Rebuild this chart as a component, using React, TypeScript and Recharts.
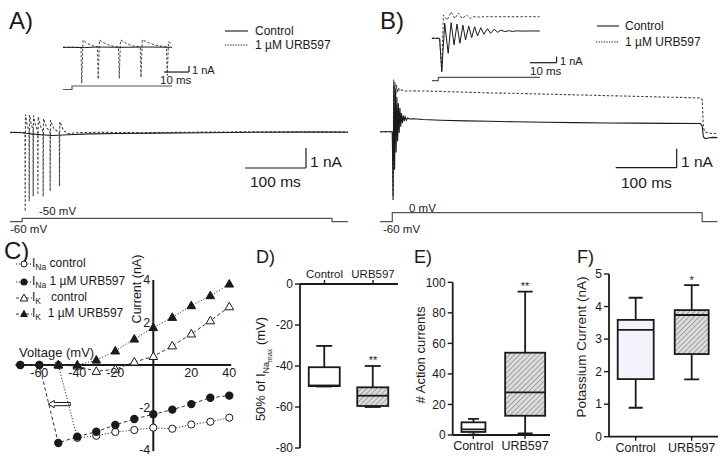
import React from "react";
import {
  Bar,
  ComposedChart,
  Line,
  LineChart,
  ReferenceDot,
  ReferenceLine,
  XAxis,
  YAxis
} from "recharts";

const FONT = '"Liberation Sans", Arial, Helvetica, sans-serif';
const INK = "#1a1a1a";
const STEP_INK = "#555";

// ---------- A) -50 mV step: time (ms from step onset), current (nA)
const aControl = [
  { t: -20, i: 0.02 }, { t: 0, i: 0 }, { t: 6, i: -0.03 }, { t: 15, i: -0.06 }, { t: 30, i: -0.1 },
  { t: 50, i: -0.14 }, { t: 75, i: -0.1 }, { t: 110, i: -0.06 }, { t: 160, i: -0.04 }, { t: 220, i: -0.02 },
  { t: 300, i: 0 }, { t: 380, i: 0.02 }, { t: 450, i: 0.03 }, { t: 508, i: 0.03 }, { t: 534, i: 0.02 }
];
const aUrb = [
  { t: -20, i: 0 }, { t: -10, i: 0.02 }, { t: 4.6, i: 0 }, { t: 4.9, i: -3.93 }, { t: 5.4, i: 0.9 }, { t: 8, i: 0.4 },
  { t: 11.2, i: 0.1 }, { t: 11.5, i: -3.43 }, { t: 12, i: 0.88 }, { t: 15, i: 0.4 },
  { t: 17.7, i: 0.15 }, { t: 18, i: -3.18 }, { t: 18.5, i: 0.85 }, { t: 22, i: 0.35 },
  { t: 25.4, i: 0.1 }, { t: 25.7, i: -3.1 }, { t: 26.2, i: 0.8 }, { t: 30, i: 0.35 },
  { t: 34.1, i: 0.05 }, { t: 34.4, i: -3.18 }, { t: 34.9, i: 0.7 }, { t: 40, i: 0.25 },
  { t: 45.6, i: 0.05 }, { t: 45.9, i: -2.93 }, { t: 46.4, i: 0.62 }, { t: 52, i: 0.2 },
  { t: 60.8, i: 0 }, { t: 61.1, i: -2.68 }, { t: 61.6, i: 0.55 }, { t: 68, i: 0.1 }, { t: 75, i: -0.05 },
  { t: 90, i: 0 }, { t: 120, i: 0.02 }, { t: 200, i: 0 }, { t: 300, i: 0.03 }, { t: 400, i: 0.05 },
  { t: 508, i: 0.05 }, { t: 534, i: 0.05 }
];
const aStep = [
  { t: -20, v: -60 }, { t: 0, v: -60 }, { t: 0, v: -50 }, { t: 508, v: -50 }, { t: 508, v: -60 }, { t: 534, v: -60 }
];
// inset of A (first 40 ms)
const aInsetControl = [
  { t: -3.6, i: 0 }, { t: 0, i: 0 }, { t: 5, i: -0.05 }, { t: 10, i: 0.05 }, { t: 20, i: 0 }, { t: 30, i: 0.05 }, { t: 40, i: 0 }
];
const aInsetUrb = [
  { t: -3.6, i: 0 }, { t: 3.6, i: 0 }, { t: 3.9, i: -6.0 }, { t: 4.4, i: 1.2 }, { t: 6, i: 0.7 }, { t: 8, i: 0.3 },
  { t: 10.2, i: 0.05 }, { t: 10.5, i: -5.3 }, { t: 11, i: 1.2 }, { t: 13, i: 0.7 }, { t: 15.5, i: 0.25 },
  { t: 18.6, i: 0.05 }, { t: 18.9, i: -5.2 }, { t: 19.4, i: 1.2 }, { t: 21.5, i: 0.7 }, { t: 24, i: 0.25 },
  { t: 27.3, i: 0.05 }, { t: 27.6, i: -5.0 }, { t: 28.1, i: 1.25 }, { t: 30.5, i: 0.8 }, { t: 33.5, i: 0.35 },
  { t: 37.8, i: 0.05 }, { t: 38.1, i: -4.7 }, { t: 38.6, i: 0.9 }, { t: 40, i: 0.6 }
];
const aInsetStep = [{ t: -3.6, v: -60 }, { t: 0, v: -60 }, { t: 0, v: -50 }, { t: 40, v: -50 }];

// ---------- B) 0 mV step
const bControl = [
  { t: -20, i: 0 }, { t: 0, i: 0 }, { t: 1.3, i: -3.6 }, { t: 2.5, i: 2.45 }, { t: 3.8, i: -2.0 }, { t: 5, i: 2.2 },
  { t: 6.3, i: -1.1 }, { t: 7.5, i: 1.84 }, { t: 8.8, i: -0.5 }, { t: 10, i: 1.5 }, { t: 11.3, i: -0.07 },
  { t: 12.5, i: 1.25 }, { t: 13.8, i: 0.26 }, { t: 15, i: 0.98 }, { t: 16.5, i: 0.45 }, { t: 18, i: 0.85 },
  { t: 19.5, i: 0.55 }, { t: 21, i: 0.79 }, { t: 23, i: 0.6 }, { t: 25, i: 0.72 }, { t: 28, i: 0.67 },
  { t: 35, i: 0.68 }, { t: 50, i: 0.64 }, { t: 80, i: 0.6 }, { t: 120, i: 0.57 }, { t: 160, i: 0.55 },
  { t: 200, i: 0.52 }, { t: 250, i: 0.5 }, { t: 300, i: 0.48 }, { t: 350, i: 0.46 }, { t: 400, i: 0.45 },
  { t: 450, i: 0.44 }, { t: 505, i: 0.43 }, { t: 508, i: 0.3 }, { t: 510, i: -0.28 }, { t: 513, i: -0.36 },
  { t: 518, i: -0.33 }, { t: 525, i: -0.3 }, { t: 533, i: -0.31 }
];
const bUrb = [
  { t: -20, i: 0 }, { t: 0, i: 0 }, { t: 1.3, i: -3.4 }, { t: 2.3, i: 2.75 }, { t: 3.3, i: 1.6 }, { t: 4.5, i: 2.6 },
  { t: 5.8, i: 1.9 }, { t: 7, i: 2.45 }, { t: 8.5, i: 2.05 }, { t: 10, i: 2.3 }, { t: 12, i: 2.15 }, { t: 15, i: 2.2 },
  { t: 20, i: 2.14 }, { t: 40, i: 2.15 }, { t: 80, i: 2.12 }, { t: 120, i: 2.08 }, { t: 160, i: 2.04 },
  { t: 200, i: 2.02 }, { t: 250, i: 1.98 }, { t: 300, i: 1.94 }, { t: 350, i: 1.9 }, { t: 400, i: 1.86 },
  { t: 450, i: 1.82 }, { t: 504, i: 1.78 }, { t: 508, i: 1.7 }, { t: 510, i: 0.2 }, { t: 513, i: -0.02 },
  { t: 520, i: -0.08 }, { t: 533, i: -0.1 }
];
const bStep = [
  { t: -20, v: -60 }, { t: 0, v: -60 }, { t: 0, v: 0 }, { t: 508, v: 0 }, { t: 508, v: -60 }, { t: 533, v: -60 }
];
const bInsetControl = [
  { t: -2.4, i: 0 }, { t: 0.5, i: 0 }, { t: 1.3, i: -5.57 }, { t: 2.4, i: 2.5 }, { t: 3.7, i: -2.5 }, { t: 4.8, i: 2.6 },
  { t: 5.9, i: -1.1 }, { t: 7, i: 2.38 }, { t: 8.1, i: -0.83 }, { t: 9.2, i: 2.2 }, { t: 10.2, i: -0.28 },
  { t: 11.4, i: 2.05 }, { t: 12.5, i: 0.1 }, { t: 13.6, i: 1.93 }, { t: 14.7, i: 0.38 }, { t: 15.9, i: 1.77 },
  { t: 17.1, i: 0.67 }, { t: 18.4, i: 1.6 }, { t: 19.6, i: 0.83 }, { t: 20.9, i: 1.5 }, { t: 22.2, i: 1.0 },
  { t: 23.5, i: 1.38 }, { t: 24.9, i: 1.1 }, { t: 26.3, i: 1.27 }, { t: 27.8, i: 1.15 }, { t: 29.5, i: 1.24 },
  { t: 32, i: 1.2 }, { t: 35, i: 1.22 }, { t: 38, i: 1.22 }
];
const bInsetUrb = [
  { t: -2.4, i: 0 }, { t: 0.5, i: 0 }, { t: 1.3, i: -5.4 }, { t: 1.9, i: 3.9 }, { t: 3.3, i: 3.05 }, { t: 4.8, i: 4.4 },
  { t: 6.2, i: 3.3 }, { t: 7.5, i: 4.2 }, { t: 9, i: 3.3 }, { t: 10.6, i: 3.9 }, { t: 11.9, i: 3.3 }, { t: 13.1, i: 3.6 },
  { t: 15, i: 3.55 }, { t: 18, i: 3.6 }, { t: 25, i: 3.6 }, { t: 38, i: 3.6 }
];
const bInsetStep = [{ t: -2.4, v: -60 }, { t: 0, v: -60 }, { t: 0, v: 0 }, { t: 38, v: 0 }];

// ---------- C) I-V relation: voltage (mV), current (nA)
const iNaControl = [
  { mV: -70, i: 0 }, { mV: -60, i: 0 }, { mV: -50, i: 0 }, { mV: -40, i: -3.43 }, { mV: -30, i: -3.33 },
  { mV: -20, i: -3.15 }, { mV: -10, i: -3.06 }, { mV: 0, i: -2.95 }, { mV: 10, i: -3.0 }, { mV: 20, i: -2.8 },
  { mV: 30, i: -2.67 }, { mV: 40, i: -2.48 }
];
const iNaUrb = [
  { mV: -70, i: 0 }, { mV: -60, i: 0 }, { mV: -50, i: -3.67 }, { mV: -40, i: -3.37 }, { mV: -30, i: -3.14 },
  { mV: -20, i: -2.82 }, { mV: -10, i: -2.54 }, { mV: 0, i: -2.32 }, { mV: 10, i: -2.1 }, { mV: 20, i: -1.84 },
  { mV: 30, i: -1.54 }, { mV: 40, i: -1.44 }
];
const iKControl = [
  { mV: -50, i: 0 }, { mV: -40, i: -0.05 }, { mV: -30, i: -0.3 }, { mV: -20, i: -0.2 }, { mV: -10, i: 0.14 },
  { mV: 0, i: 0.4 }, { mV: 10, i: 0.9 }, { mV: 20, i: 1.46 }, { mV: 30, i: 2.08 }, { mV: 40, i: 2.74 }
];
const iKUrb = [
  { mV: -50, i: 0 }, { mV: -40, i: 0 }, { mV: -30, i: 0.23 }, { mV: -20, i: 0.66 }, { mV: -10, i: 1.22 },
  { mV: 0, i: 1.76 }, { mV: 10, i: 2.24 }, { mV: 20, i: 2.79 }, { mV: 30, i: 3.26 }, { mV: 40, i: 3.81 }
];
const cVoltTicks = [-60, -40, -20, 20, 40];
const cCurrTicks = [4, 2, -2, -4];

// ---------- D, E, F) box plots
const groups = ["Control", "URB597"];
const dStats = [
  { min: -50, q1: -49.8, median: -49.5, q3: -40.6, max: -30.2 },
  { min: -60, q1: -59.5, median: -54.5, q3: -50.4, max: -40 }
];
const eStats = [
  { min: 0.3, q1: 2.0, median: 3.7, q3: 8.3, max: 10.5 },
  { min: 1.1, q1: 12.6, median: 27.9, q3: 53.9, max: 93.9 }
];
const fStats = [
  { min: 0.89, q1: 1.77, median: 3.28, q3: 3.59, max: 4.27 },
  { min: 1.76, q1: 2.54, median: 3.74, q3: 3.89, max: 4.66 }
];
const dSig = ["", "**"];
const eSig = ["", "**"];
const fSig = ["", "*"];
const dTicks = [0, -20, -40, -60, -80];
const eTicks = [0, 20, 40, 60, 80, 100];
const fTicks = [0, 1, 2, 3, 4, 5];

// value range a chart spans edge to edge, from one pixel anchor and a px-per-unit scale
const hspan = (left: number, w: number, refPx: number, refVal: number, ppu: number): [number, number] => [
  refVal - (refPx - left) / ppu,
  refVal + (left + w - refPx) / ppu
];
const vspan = (top: number, h: number, refPx: number, refVal: number, ppu: number): [number, number] => [
  refVal - (top + h - refPx) / ppu,
  refVal + (refPx - top) / ppu
];

function Txt({ x, y, size = 12, anchor = "start", children }: any) {
  const tx = anchor === "middle" ? "-50%" : anchor === "end" ? "-100%" : "0";
  return (
    <div
      style={{
        position: "absolute",
        left: x,
        top: y,
        fontSize: size,
        lineHeight: 1,
        whiteSpace: "nowrap",
        transform: `translate(${tx}, -50%)`
      }}
    >
      {children}
    </div>
  );
}

function VTxt({ x, y, size = 13, children }: any) {
  return (
    <div
      style={{
        position: "absolute",
        left: x,
        top: y,
        fontSize: size,
        lineHeight: 1,
        whiteSpace: "nowrap",
        transform: "translate(-50%, -50%) rotate(-90deg)"
      }}
    >
      {children}
    </div>
  );
}

function Sample({ x, y, w, dash }: { x: number; y: number; w: number; dash?: string }) {
  return (
    <svg width={w} height={4} style={{ position: "absolute", left: x, top: y - 2 }}>
      <line x1={0} x2={w} y1={2} y2={2} stroke={INK} strokeWidth={1.1} strokeDasharray={dash} />
    </svg>
  );
}

type TracePt = { t: number; i: number };
type Bar = { t: number; i: number; ms: number; nA: number };

function TraceChart(props: {
  left: number; top: number; width: number; height: number;
  xDom: [number, number]; iDom: [number, number]; vDom: [number, number];
  control: TracePt[]; urb: TracePt[]; step: { t: number; v: number }[]; bar: Bar; lw?: number;
}) {
  const { left, top, width, height, xDom, iDom, vDom, control, urb, step, bar, lw = 1.1 } = props;
  const sb = { stroke: INK, strokeWidth: 1.2, ifOverflow: "visible" as const, yAxisId: "i" };
  return (
    <div style={{ position: "absolute", left, top }}>
      <LineChart width={width} height={height} margin={{ top: 0, right: 0, bottom: 0, left: 0 }}>
        <XAxis type="number" dataKey="t" domain={xDom} hide allowDataOverflow />
        <YAxis yAxisId="i" type="number" domain={iDom} hide allowDataOverflow />
        <YAxis yAxisId="v" type="number" domain={vDom} hide allowDataOverflow />
        <Line yAxisId="v" data={step} dataKey="v" type="linear" stroke={STEP_INK} strokeWidth={1.2} dot={false} isAnimationActive={false} />
        <Line yAxisId="i" data={urb} dataKey="i" type="linear" stroke="#444" strokeWidth={lw} strokeDasharray="2.5 1.8" dot={false} isAnimationActive={false} />
        <Line yAxisId="i" data={control} dataKey="i" type="linear" stroke={INK} strokeWidth={lw} dot={false} isAnimationActive={false} />
        <ReferenceLine {...sb} segment={[{ x: bar.t, y: bar.i }, { x: bar.t + bar.ms, y: bar.i }]} />
        <ReferenceLine {...sb} segment={[{ x: bar.t + bar.ms, y: bar.i }, { x: bar.t + bar.ms, y: bar.i + bar.nA }]} />
      </LineChart>
    </div>
  );
}

const openCircle = (p: any) => <circle key={p.index} cx={p.cx} cy={p.cy} r={3.6} fill="#fff" stroke={INK} strokeWidth={1} />;
const filledCircle = (p: any) => <circle key={p.index} cx={p.cx} cy={p.cy} r={4.2} fill={INK} />;
const tri = (p: any, filled: boolean) => (
  <polygon
    key={p.index}
    points={`${p.cx},${p.cy - 4.6} ${p.cx - 4.3},${p.cy + 3} ${p.cx + 4.3},${p.cy + 3}`}
    fill={filled ? INK : "#fff"}
    stroke={INK}
    strokeWidth={1}
  />
);

function HollowArrow(p: any) {
  const { x1, y1, x2 } = p;
  const head = 6;
  const d = `M${x1},${y1 - 1.6} L${x2 + head},${y1 - 1.6} L${x2 + head},${y1 - 3.6} L${x2},${y1} L${x2 + head},${y1 + 3.6} L${x2 + head},${y1 + 1.6} L${x1},${y1 + 1.6} Z`;
  return <path d={d} fill="#fff" stroke={INK} strokeWidth={1} />;
}

function IVChart() {
  const left = 10, top = 268, width = 232, height = 192;
  const xDom = hspan(left, width, 153.3, 0, 1.9);
  const yDom = vspan(top, height, 365, 0, 21.25);
  const ax = { stroke: INK, strokeWidth: 2, ifOverflow: "visible" as const };
  return (
    <div style={{ position: "absolute", left, top }}>
      <LineChart width={width} height={height} margin={{ top: 0, right: 0, bottom: 0, left: 0 }}>
        <XAxis type="number" dataKey="mV" domain={xDom} hide allowDataOverflow />
        <YAxis type="number" domain={yDom} hide allowDataOverflow />
        <ReferenceLine {...ax} segment={[{ x: -72.5, y: 0 }, { x: 41, y: 0 }]} />
        <ReferenceLine {...ax} segment={[{ x: 0, y: -4.05 }, { x: 0, y: 4 }]} />
        {cVoltTicks.map((v) => (
          <ReferenceDot key={"x" + v} x={v} y={0} r={0} ifOverflow="visible"
            label={{ value: String(v), position: "bottom", offset: 3, fontSize: 12.5, fill: INK }} />
        ))}
        {cCurrTicks.map((v) => (
          <ReferenceDot key={"y" + v} x={0} y={v} r={0} ifOverflow="visible"
            label={{ value: String(v), position: "left", offset: 3, fontSize: 12.5, fill: INK }} />
        ))}
        <ReferenceLine segment={[{ x: -43.7, y: -1.84 }, { x: -55.3, y: -1.84 }]} ifOverflow="visible" shape={HollowArrow} />
        <Line data={iNaControl} dataKey="i" stroke="#333" strokeWidth={1} strokeDasharray="1.2 1.8" dot={openCircle} isAnimationActive={false} />
        <Line data={iKControl} dataKey="i" stroke="#333" strokeWidth={1} strokeDasharray="3.5 2.5" dot={(p: any) => tri(p, false)} isAnimationActive={false} />
        <Line data={iKUrb} dataKey="i" stroke="#333" strokeWidth={1} strokeDasharray="1.2 1.8" dot={(p: any) => tri(p, true)} isAnimationActive={false} />
        <Line data={iNaUrb} dataKey="i" stroke="#333" strokeWidth={1} strokeDasharray="3.5 2.5" dot={filledCircle} isAnimationActive={false} />
      </LineChart>
    </div>
  );
}

function LegendMark({ y, kind, dash }: { y: number; kind: string; dash: string }) {
  const cx = 8;
  return (
    <svg width={18} height={12} style={{ position: "absolute", left: 16, top: y - 6 }}>
      <line x1={0} x2={16} y1={6} y2={6} stroke="#333" strokeWidth={1} strokeDasharray={dash} />
      {kind === "oc" && <circle cx={cx} cy={6} r={3} fill="#fff" stroke={INK} />}
      {kind === "fc" && <circle cx={cx} cy={6} r={3.6} fill={INK} />}
      {kind === "ot" && <polygon points={`${cx},2 ${cx - 3.8},9 ${cx + 3.8},9`} fill="#fff" stroke={INK} />}
      {kind === "ft" && <polygon points={`${cx},1.5 ${cx - 4},9 ${cx + 4},9`} fill={INK} />}
    </svg>
  );
}

function BoxShape(p: any) {
  const { x, y, width, height, payload, boxFill, boxW, capW } = p;
  const top = Math.min(y, y + height);
  const h = Math.abs(height);
  const k = h / (payload.q3 - payload.q1);
  const py = (v: number) => top + (payload.q3 - v) * k;
  const cx = x + width / 2;
  const bx = cx - boxW / 2;
  const s = { stroke: INK, strokeWidth: 1.8 };
  return (
    <g>
      <line x1={cx} x2={cx} y1={py(payload.max)} y2={top} {...s} />
      <line x1={cx} x2={cx} y1={top + h} y2={py(payload.min)} {...s} />
      <line x1={cx - capW / 2} x2={cx + capW / 2} y1={py(payload.max)} y2={py(payload.max)} {...s} />
      <line x1={cx - capW / 2} x2={cx + capW / 2} y1={py(payload.min)} y2={py(payload.min)} {...s} />
      <rect x={bx} y={top} width={boxW} height={h} fill={boxFill} {...s} />
      <line x1={bx} x2={bx + boxW} y1={py(payload.median)} y2={py(payload.median)} {...s} />
    </g>
  );
}

type Stat = { min: number; q1: number; median: number; q3: number; max: number };

function BoxChart(props: {
  left: number; top: number; width: number; height: number;
  stats: Stat[]; sig: string[]; yDom: [number, number]; yTicks: number[];
  yW: number; xH: number; mTop: number; mRight: number; mBottom: number;
  c1: number; c2: number; xTop?: boolean; fills: string[]; boxW: number[]; capW: number[];
  catSize: number; sigOffset: number;
}) {
  const p = props;
  const plotL = p.left + p.yW;
  const plotR = p.left + p.width - p.mRight;
  const ppu = p.c2 - p.c1;
  const xDom: [number, number] = [1 - (p.c1 - plotL) / ppu, 2 + (plotR - p.c2) / ppu];
  const rows = p.stats.map((s, i) => ({ ...s, pos: i + 1 }));
  const axisLine = { stroke: INK, strokeWidth: 1.8 };
  return (
    <div style={{ position: "absolute", left: p.left, top: p.top }}>
      <ComposedChart width={p.width} height={p.height} data={rows}
        margin={{ top: p.mTop, right: p.mRight, bottom: p.mBottom, left: 0 }}>
        <XAxis type="number" dataKey="pos" domain={xDom} ticks={[1, 2]} interval={0} allowDataOverflow
          orientation={p.xTop ? "top" : "bottom"} height={p.xH}
          tickFormatter={(v: number) => groups[v - 1]}
          axisLine={axisLine} tickLine={{ stroke: INK, strokeWidth: 1.4 }} tickSize={4}
          tick={{ fontSize: p.catSize, fill: INK }} />
        <YAxis type="number" domain={p.yDom} ticks={p.yTicks} interval={0} allowDataOverflow width={p.yW}
          axisLine={axisLine} tickLine={{ stroke: INK, strokeWidth: 1.4 }} tickSize={5}
          tick={{ fontSize: 12, fill: INK }} />
        <Bar dataKey={(d: Stat) => [d.q1, d.q3]} barSize={30} isAnimationActive={false}
          shape={(s: any) => <BoxShape {...s} boxFill={p.fills[s.index]} boxW={p.boxW[s.index]} capW={p.capW[s.index]} />} />
        {p.stats.map((s, i) =>
          p.sig[i] ? (
            <ReferenceDot key={i} x={i + 1} y={s.max} r={0} ifOverflow="visible"
              label={{ value: p.sig[i], position: "top", offset: p.sigOffset, fontSize: 11, fill: INK }} />
          ) : null
        )}
      </ComposedChart>
    </div>
  );
}

export default function App() {
  // A layout
  const aMain = { left: 10, top: 100, width: 338, height: 130 };
  const aIn = { left: 63, top: 28, width: 135, height: 68 };
  const bMain = { left: 378, top: 55, width: 350, height: 175 };
  const bIn = { left: 428, top: 0, width: 135, height: 92 };

  return (
    <div style={{ position: "absolute", left: 0, top: 0, width: 728, height: 464, background: "#fff", overflow: "hidden", fontFamily: FONT, color: INK }}>
      <svg width={0} height={0} style={{ position: "absolute" }}>
        <defs>
          <pattern id="hatch" patternUnits="userSpaceOnUse" width={3.6} height={3.6} patternTransform="rotate(45)">
            <rect width={3.6} height={3.6} fill="#dcdcdc" />
            <line x1={0} y1={0} x2={0} y2={3.6} stroke="#8a8a8a" strokeWidth={1.4} />
          </pattern>
        </defs>
      </svg>

      {/* ---------- A */}
      <Txt x={9} y={21} size={24}>A)</Txt>
      <TraceChart {...aMain}
        xDom={hspan(aMain.left, aMain.width, 22.2, 0, 0.61)}
        iDom={vspan(aMain.top, aMain.height, 132.7, 0, 20)}
        vDom={vspan(aMain.top, aMain.height, 218.3, -50, 0.34)}
        control={aControl} urb={aUrb} step={aStep} bar={{ t: 365.2, i: -1.765, ms: 100, nA: 1 }} />
      <TraceChart {...aIn}
        xDom={hspan(aIn.left, aIn.width, 72, 0, 2.5)}
        iDom={vspan(aIn.top, aIn.height, 47.3, 0, 6)}
        vDom={vspan(aIn.top, aIn.height, 86, -50, 0.35)}
        control={aInsetControl} urb={aInsetUrb} step={aInsetStep} bar={{ t: 36.8, i: -4.12, ms: 10, nA: 1 }} lw={1} />
      <Sample x={225} y={31} w={23} />
      <Txt x={255} y={31} size={12}>Control</Txt>
      <Sample x={225} y={45} w={23} dash="1.3 1.3" />
      <Txt x={255} y={45} size={12}>1 µM URB597</Txt>
      <Txt x={192} y={70} size={11}>1 nA</Txt>
      <Txt x={160} y={81} size={11.5}>10 ms</Txt>
      <Txt x={310} y={162} size={15.5}>1 nA</Txt>
      <Txt x={250} y={182} size={15.5}>100 ms</Txt>
      <Txt x={39} y={212} size={11.5}>-50 mV</Txt>
      <Txt x={10} y={230} size={11.5}>-60 mV</Txt>

      {/* ---------- B */}
      <Txt x={380} y={21} size={24}>B)</Txt>
      <TraceChart {...bMain}
        xDom={hspan(bMain.left, bMain.width, 392.3, 0, 0.61)}
        iDom={vspan(bMain.top, bMain.height, 131.7, 0, 19)}
        vDom={vspan(bMain.top, bMain.height, 212.7, 0, 0.15)}
        control={bControl} urb={bUrb} step={bStep} bar={{ t: 366.2, i: -1.895, ms: 100, nA: 1 }} />
      <TraceChart {...bIn}
        xDom={hspan(bIn.left, bIn.width, 438.3, 0, 2.67)}
        iDom={vspan(bIn.top, bIn.height, 38.3, 0, 6)}
        vDom={vspan(bIn.top, bIn.height, 77.3, 0, 0.0567)}
        control={bInsetControl} urb={bInsetUrb} step={bInsetStep} bar={{ t: 34.3, i: -4.07, ms: 10, nA: 1 }} lw={1} />
      <Sample x={597} y={26} w={22} />
      <Txt x={625} y={26} size={12}>Control</Txt>
      <Sample x={596} y={41.5} w={23} dash="1.3 1.3" />
      <Txt x={625} y={41.5} size={12}>1 µM URB597</Txt>
      <Txt x={560} y={61} size={11}>1 nA</Txt>
      <Txt x={530} y={72} size={11.5}>10 ms</Txt>
      <Txt x={681} y={162} size={15.5}>1 nA</Txt>
      <Txt x={621} y={183} size={15.5}>100 ms</Txt>
      <Txt x={409} y={208.5} size={11.5}>0 mV</Txt>
      <Txt x={383} y={230} size={11.5}>-60 mV</Txt>

      {/* ---------- C */}
      <Txt x={4} y={251} size={24}>C)</Txt>
      <IVChart />
      <Txt x={19} y={352} size={13}>Voltage (mV)</Txt>
      <VTxt x={137} y={289} size={12.5}>Current (nA)</VTxt>
      <LegendMark y={264} kind="oc" dash="1.2 1.6" />
      <LegendMark y={281.5} kind="fc" dash="1.2 1.6" />
      <LegendMark y={298} kind="ot" dash="3 2" />
      <LegendMark y={313.5} kind="ft" dash="3 2" />
      <Txt x={32} y={264} size={12}>I<sub style={{ fontSize: 8.5 }}>Na</sub> control</Txt>
      <Txt x={32} y={281.5} size={12}>I<sub style={{ fontSize: 8.5 }}>Na</sub> 1 µM URB597</Txt>
      <Txt x={32} y={298} size={12}>I<sub style={{ fontSize: 8.5 }}>K</sub>&nbsp;&nbsp; control</Txt>
      <Txt x={32} y={313.5} size={12}>I<sub style={{ fontSize: 8.5 }}>K</sub>&nbsp;&nbsp;1 µM URB597</Txt>

      {/* ---------- D */}
      <Txt x={256} y={257} size={18}>D)</Txt>
      <BoxChart left={250} top={255} width={160} height={205} stats={dStats} sig={dSig}
        yDom={[-80, 0]} yTicks={dTicks} yW={50} xH={29} mTop={0} mRight={12} mBottom={12}
        c1={324.5} c2={373} xTop fills={["#fff", "url(#hatch)"]} boxW={[31, 31]} capW={[16, 16]}
        catSize={11.5} sigOffset={2} />
      <VTxt x={263} y={369} size={13}>
        50% of I<sub style={{ fontSize: 9 }}>Na<sub style={{ fontSize: 7 }}>max</sub></sub> (mV)
      </VTxt>

      {/* ---------- E */}
      <Txt x={414} y={257} size={18}>E)</Txt>
      <BoxChart left={400} top={270} width={155} height={190} stats={eStats} sig={eSig}
        yDom={[0, 100]} yTicks={eTicks} yW={52.7} xH={25} mTop={12.3} mRight={5} mBottom={0}
        c1={473.3} c2={525} fills={["#fff", "url(#hatch)"]} boxW={[24, 40]} capW={[11, 15]}
        catSize={12.5} sigOffset={2} />
      <VTxt x={420} y={355} size={13}># Action currents</VTxt>

      {/* ---------- F */}
      <Txt x={577} y={257} size={18}>F)</Txt>
      <BoxChart left={560} top={262} width={165} height={198} stats={fStats} sig={fSig}
        yDom={[0, 5]} yTicks={fTicks} yW={49} xH={23.3} mTop={12} mRight={7} mBottom={0}
        c1={635.7} c2={691.7} fills={["#f3f3fb", "url(#hatch)"]} boxW={[36, 34]} capW={[14, 15]}
        catSize={12.5} sigOffset={1} />
      <VTxt x={582} y={347} size={13.5}>Potassium Current (nA)</VTxt>
    </div>
  );
}
